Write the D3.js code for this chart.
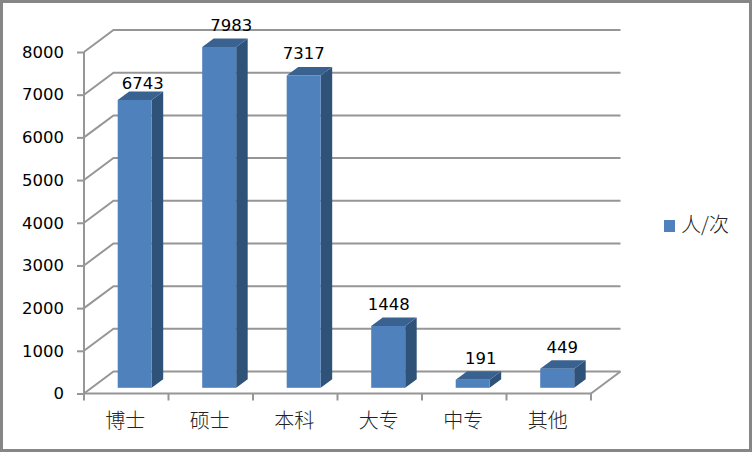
<!DOCTYPE html>
<html>
<head>
<meta charset="utf-8">
<script src="https://cdn.jsdelivr.net/npm/d3@7"></script>
<style>
body { margin: 0; background: #fff; }
svg { display: block; }
text { font-family: "DejaVu Sans", sans-serif; fill: #000; }
.cjk { font-family: "Noto Sans CJK SC", sans-serif; font-weight: 300; fill: #222; }
</style>
</head>
<body>
<div class="chart"></div>
<script>
var categories = ["博士", "硕士", "本科", "大专", "中专", "其他"];
var values = [6743, 7983, 7317, 1448, 191, 449];
var yTicks = [0, 1000, 2000, 3000, 4000, 5000, 6000, 7000, 8000];
var seriesName = "人/次";

var svgWidth = 752;
var svgHeight = 452;

// 3d offsets: wall is shifted from the front plane, bars sit a bit inside
var wallDx = 29.5, wallDy = -22;
var barDx = 11.5, barDy = -8.5;

var svg = d3.select(".chart")
  .append("svg")
  .attr("width", svgWidth)
  .attr("height", svgHeight);

svg.append("rect")
  .attr("x", 1.5).attr("y", 1.5)
  .attr("width", svgWidth - 3).attr("height", svgHeight - 3)
  .attr("fill", "#fff")
  .attr("stroke", "#868686")
  .attr("stroke-width", 3);

var x = d3.scaleBand().domain(categories).range([84, 591]);
var y = d3.scaleLinear().domain([0, 8000]).range([393.5, 52]);

// gridlines on the side and back wall
var gridColor = "#969696";
var grid = svg.append("g").attr("fill", "none").attr("stroke", gridColor).attr("stroke-width", 2);
grid.selectAll("path")
  .data(yTicks)
  .enter()
  .append("path")
  .attr("d", d => `M84,${y(d)}L${84 + wallDx},${y(d) + wallDy}H${591 + wallDx}`);

// floor front right edge
grid.append("path")
  .attr("d", `M591,${y(0)}L${591 + wallDx},${y(0) + wallDy}`);

var leftAxis = d3.axisLeft(y).tickValues(yTicks).tickSize(7).tickPadding(13).tickFormat(d3.format("d"));
var gLeft = svg.append("g").attr("transform", "translate(84,0)").call(leftAxis);
gLeft.selectAll("line, path").attr("stroke", gridColor).attr("stroke-width", 2);
gLeft.select(".domain").attr("d", `M0,${y(8000)}V${y(0)}`);
gLeft.selectAll("text").attr("font-size", 16.5).attr("font-family", "DejaVu Sans").attr("fill", "#000");

var bottomAxis = d3.axisBottom(x).tickSize(7).tickPadding(9);
var gBottom = svg.append("g").attr("transform", `translate(0,${y(0)})`).call(bottomAxis);
gBottom.select(".domain").attr("d", "M84,0H591").attr("stroke", gridColor).attr("stroke-width", 2);
gBottom.selectAll(".tick line").remove();
gBottom.selectAll(".tick text").attr("class", "cjk").attr("font-size", 20).attr("fill", "#222").attr("x", -1).attr("y", 20).attr("dy", "0.71em");
gBottom.selectAll(".sep")
  .data(d3.range(categories.length + 1))
  .enter()
  .append("line")
  .attr("x1", i => 84 + i * x.bandwidth())
  .attr("x2", i => 84 + i * x.bandwidth())
  .attr("y1", 0)
  .attr("y2", 7)
  .attr("stroke", gridColor)
  .attr("stroke-width", 2);

// bars
var barWidth = 34;
var barOffset = 33.7;
var floorY = y(0) - 5.7;
var h = d => y(0) - y(d);

// the labels were dragged by hand in the original, so they don't line up evenly
var labelShiftX = [8, 12, 0, 0.5, 8, 5];
var labelGap = [2.5, 7.5, 7.5, 7.5, 7.5, 7.5];

var bars = svg.selectAll(".bar")
  .data(categories)
  .enter()
  .append("g")
  .attr("class", "bar")
  .attr("transform", c => `translate(${x(c) + barOffset},${floorY})`);

bars.append("path")
  .attr("fill", "#2f5279")
  .attr("d", (c, i) => `M${barWidth},0V${-h(values[i])}l${barDx},${barDy}V${barDy}Z`);

bars.append("path")
  .attr("fill", "#3a6291")
  .attr("d", (c, i) => `M0,${-h(values[i])}H${barWidth}l${barDx},${barDy}H${barDx}Z`);

bars.append("rect")
  .attr("fill", "#4f81bd")
  .attr("width", barWidth)
  .attr("y", (c, i) => -h(values[i]))
  .attr("height", (c, i) => h(values[i]));

bars.append("text")
  .attr("x", (c, i) => barWidth / 2 + labelShiftX[i])
  .attr("y", (c, i) => -h(values[i]) + barDy - labelGap[i])
  .attr("text-anchor", "middle")
  .attr("font-size", 16.5)
  .text((c, i) => values[i]);

// legend
svg.append("rect")
  .attr("x", 664).attr("y", 220)
  .attr("width", 11).attr("height", 12)
  .attr("fill", "#4f81bd");

svg.append("text")
  .attr("class", "cjk")
  .attr("x", 681).attr("y", 232)
  .attr("font-size", 20)
  .text(seriesName);
</script>
</body>
</html>
